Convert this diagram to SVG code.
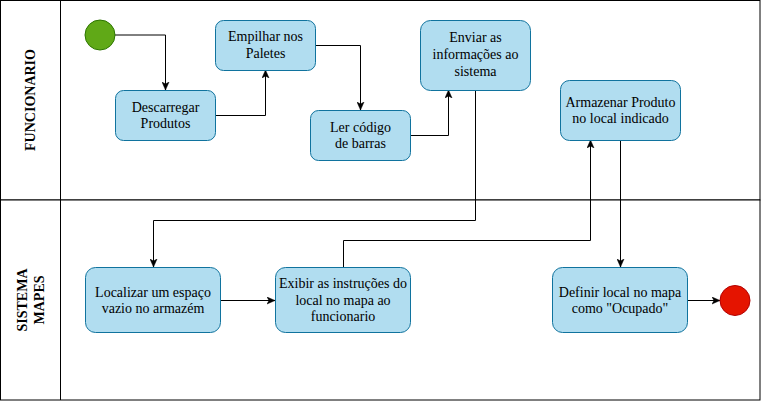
<svg xmlns="http://www.w3.org/2000/svg" width="761" height="401" viewBox="0 0 761 401">
<style>
.lane{fill:#ffffff;stroke:#000000;stroke-width:1}
.box{fill:#b1ddf0;stroke:#10739e;stroke-width:1}
.t{font-family:'Liberation Serif','DejaVu Serif',serif;font-size:14px;fill:#000000;text-anchor:middle}
.h{font-family:'Liberation Serif','DejaVu Serif',serif;font-size:14px;font-weight:bold;fill:#000000;text-anchor:middle}
.c{fill:none;stroke:#000000;stroke-width:1}
</style>
<defs>
<marker id="arr" markerWidth="9" markerHeight="8" refX="8" refY="4" orient="auto" markerUnits="userSpaceOnUse">
<path d="M0,0.5 L8,4 L0,7.5 L2,4 z" fill="#000000" stroke="#000000" stroke-width="0.5"/>
</marker>
</defs>
<g id="lanes">
<rect class="lane" x="0.5" y="0.5" width="759.5" height="199.5"/>
<rect class="lane" x="0.5" y="200" width="759.5" height="200"/>
<line class="c" x1="60.5" y1="0.5" x2="60.5" y2="400"/>
<text class="h" font-family="Liberation Serif" transform="rotate(-90 30 100)" x="30" y="105">FUNCIONARIO</text>
<text class="h" font-family="Liberation Serif" transform="rotate(-90 30 300)" x="30" y="297"><tspan x="30" y="297">SISTEMA</tspan><tspan x="30" y="313.5">MAPES</tspan></text>
</g>
<g id="connectors">
<polyline class="c" points="115,35 165.5,35 165.5,90" marker-end="url(#arr)"/>
<polyline class="c" points="215,115.5 265.5,115.5 265.5,70" marker-end="url(#arr)"/>
<polyline class="c" points="315,45.5 360.5,45.5 360.5,110" marker-end="url(#arr)"/>
<polyline class="c" points="410,135.5 448.5,135.5 448.5,90" marker-end="url(#arr)"/>
<polyline class="c" points="475.5,90 475.5,220.5 153.5,220.5 153.5,267" marker-end="url(#arr)"/>
<polyline class="c" points="220,300.5 275,300.5" marker-end="url(#arr)"/>
<polyline class="c" points="343.5,267 343.5,240.5 590.5,240.5 590.5,140" marker-end="url(#arr)"/>
<polyline class="c" points="620.5,140 620.5,267" marker-end="url(#arr)"/>
<polyline class="c" points="687,300.5 720,300.5" marker-end="url(#arr)"/>
</g>
<g id="start"><circle cx="100" cy="35" r="15" fill="#60a917" stroke="#2d7600"/></g>
<g id="end"><circle cx="735" cy="300.5" r="15" fill="#e51400" stroke="#b20000"/></g>
<g id="descarregar">
<rect class="box" x="115.5" y="90.5" width="100" height="50" rx="8"/>
<text class="t" font-family="Liberation Serif" x="165.5" y="111.5">Descarregar</text>
<text class="t" font-family="Liberation Serif" x="165.5" y="128">Produtos</text>
</g>
<g id="empilhar">
<rect class="box" x="215.5" y="20.5" width="100" height="50" rx="8"/>
<text class="t" x="265.5" y="41">Empilhar nos</text>
<text class="t" x="265.5" y="58">Paletes</text>
</g>
<g id="ler">
<rect class="box" x="310.5" y="110.5" width="100" height="50" rx="8"/>
<text class="t" x="360.5" y="131.5">Ler código</text>
<text class="t" x="360.5" y="148">de barras</text>
</g>
<g id="enviar">
<rect class="box" x="420.5" y="20.5" width="110" height="70" rx="10"/>
<text class="t" x="475.5" y="42">Enviar as</text>
<text class="t" x="475.5" y="58.5">informações ao</text>
<text class="t" x="475.5" y="75.5">sistema</text>
</g>
<g id="armazenar">
<rect class="box" x="560.5" y="80.5" width="120" height="60" rx="9"/>
<text class="t" x="620.5" y="106.5">Armazenar Produto</text>
<text class="t" x="620.5" y="123">no local indicado</text>
</g>
<g id="localizar">
<rect class="box" x="85.5" y="267.5" width="135" height="65" rx="10"/>
<text class="t" x="153" y="296.5">Localizar um espaço</text>
<text class="t" x="153" y="313">vazio no armazém</text>
</g>
<g id="exibir">
<rect class="box" x="275.5" y="267.5" width="135" height="65" rx="10"/>
<text class="t" x="343" y="288">Exibir as instruções do</text>
<text class="t" x="343" y="304.5">local no mapa ao</text>
<text class="t" x="343" y="321">funcionario</text>
</g>
<g id="definir">
<rect class="box" x="552.5" y="267.5" width="135" height="65" rx="10"/>
<text class="t" x="620" y="296.5">Definir local no mapa</text>
<text class="t" x="620" y="313">como "Ocupado"</text>
</g>
</svg>
